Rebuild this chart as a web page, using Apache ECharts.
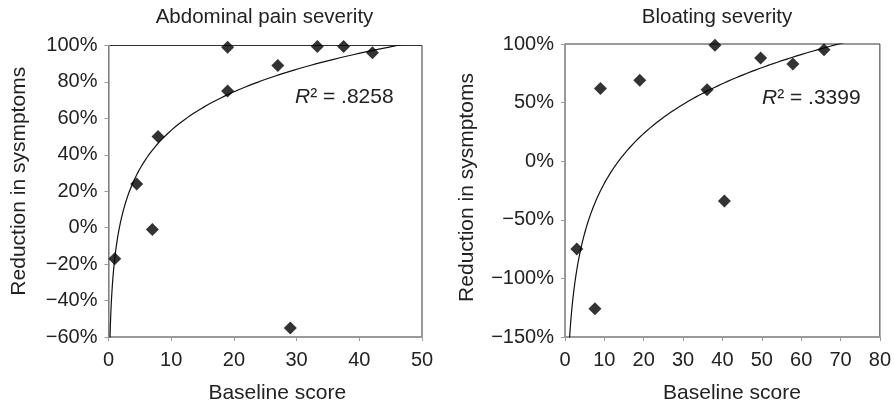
<!DOCTYPE html>
<html>
<head>
<meta charset="utf-8">
<script src="https://cdn.jsdelivr.net/npm/echarts@6/dist/echarts.min.js"></script>
<style>
html,body{margin:0;padding:0;background:#fff;}
#c{width:894px;height:409px;}
</style>
</head>
<body>
<div id="c"></div>
<script>
// ---- data ----
var titles = ['Abdominal pain severity', 'Bloating severity'];
var xAxisName = 'Baseline score';
var yAxisName = 'Reduction in sysmptoms';
var r2Labels = ['.8258', '.3399'];

var painX = [1, 4.5, 7, 7.9, 19, 19, 27, 29, 33.3, 37.5, 42.1];
var painY = [-17, 24, -1, 50, 99, 75, 89, -55, 99.5, 99.5, 96];

var bloatX = [3, 7.6, 9, 19, 36.1, 38.1, 40.5, 49.7, 57.9, 65.8];
var bloatY = [-75, -126, 62, 69, 61, 99, -34, 88, 83, 95];

// logarithmic trend lines y = a*ln(x) + b (coefficients)
var painFit = [30.5, -16.8];
var bloatFit = [61.3, -160];

var painXTicks = [0, 50, 10];      // min, max, interval
var painYTicks = [-60, 100, 20];
var bloatXTicks = [0, 80, 10];
var bloatYTicks = [-150, 100, 50];

function pairs(xs, ys) { return xs.map(function (x, i) { return [x, ys[i]]; }); }
function trend(fit, x0, x1) {
  var out = [], n = 200;
  var l0 = Math.log(x0), l1 = Math.log(x1);
  for (var i = 0; i <= n; i++) {
    var x = Math.exp(l0 + (l1 - l0) * i / n);
    out.push([x, fit[0] * Math.log(x) + fit[1]]);
  }
  return out;
}

var FONT = 'Liberation Sans';
var TXT = '#222';
var AX = '#9a9a9a';

function pct(v) { return (v < 0 ? '\u2212' + Math.abs(v) : v) + '%'; }

function xAx(idx, t, namePad) {
  return {
    type: 'value', gridIndex: idx, min: t[0], max: t[1], interval: t[2],
    name: xAxisName, nameLocation: 'middle', nameGap: 46,
    nameTextStyle: { fontFamily: FONT, fontSize: 21, color: TXT, padding: [0, 0, 0, namePad] },
    axisLine: { show: true, onZero: false, lineStyle: { color: AX, width: 1.5 } },
    axisTick: { show: true, length: 4, lineStyle: { color: AX, width: 1 } },
    axisLabel: { fontFamily: FONT, fontSize: 20, color: TXT, margin: 13 },
    splitLine: { show: false }
  };
}
function yAx(idx, t, gap, namePad) {
  return {
    type: 'value', gridIndex: idx, min: t[0], max: t[1], interval: t[2],
    name: yAxisName, nameLocation: 'middle', nameGap: gap,
    nameTextStyle: { fontFamily: FONT, fontSize: 21, color: TXT, padding: [0, 0, 0, namePad] },
    axisLine: { show: true, onZero: false, lineStyle: { color: AX, width: 1.5 } },
    axisTick: { show: true, length: 4, lineStyle: { color: AX, width: 1 } },
    axisLabel: { fontFamily: FONT, fontSize: 20, color: TXT, margin: 11, formatter: pct },
    splitLine: { show: false }
  };
}

var chart = echarts.init(document.getElementById('c'), null, { renderer: 'canvas' });
chart.setOption({
  animation: false,
  backgroundColor: '#fff',
  title: [
    { text: titles[0], left: 264.5, top: 7, textAlign: 'center', padding: 0,
      textStyle: { fontFamily: FONT, fontSize: 20.5, fontWeight: 'normal', color: TXT } },
    { text: titles[1], left: 717, top: 7, textAlign: 'center', padding: 0,
      textStyle: { fontFamily: FONT, fontSize: 20.5, fontWeight: 'normal', color: TXT } }
  ],
  grid: [
    { left: 108.5, top: 45.5, width: 313.5, height: 298.2, show: true, borderColor: '#333', borderWidth: 1, backgroundColor: 'transparent' },
    { left: 565, top: 44, width: 315, height: 298, show: true, borderColor: '#333', borderWidth: 1, backgroundColor: 'transparent' }
  ],
  xAxis: [xAx(0, painXTicks, 24), xAx(1, bloatXTicks, 19)],
  yAxis: [yAx(0, painYTicks, 79, 20), yAx(1, bloatYTicks, 87, 6)],
  graphic: [
    { type: 'text', left: 295, top: 87, z: 10,
      style: { text: '{i|R}\u00b2 = ' + r2Labels[0], fontFamily: FONT, fontSize: 21, fill: TXT,
        rich: { i: { fontStyle: 'italic', fontFamily: FONT, fontSize: 21, fill: TXT } } } },
    { type: 'text', left: 762, top: 88, z: 10,
      style: { text: '{i|R}\u00b2 = ' + r2Labels[1], fontFamily: FONT, fontSize: 21, fill: TXT,
        rich: { i: { fontStyle: 'italic', fontFamily: FONT, fontSize: 21, fill: TXT } } } }
  ],
  series: [
    { type: 'line', xAxisIndex: 0, yAxisIndex: 0, data: trend(painFit, 0.2, 50), showSymbol: false,
      clip: true, lineStyle: { color: '#111', width: 1.2 }, z: 2, silent: true },
    { type: 'scatter', xAxisIndex: 0, yAxisIndex: 0, data: pairs(painX, painY), symbol: 'diamond',
      symbolSize: 13, itemStyle: { color: '#000' }, clip: false, z: 3 },
    { type: 'line', xAxisIndex: 1, yAxisIndex: 1, data: trend(bloatFit, 1, 80), showSymbol: false,
      clip: true, lineStyle: { color: '#111', width: 1.2 }, z: 2, silent: true },
    { type: 'scatter', xAxisIndex: 1, yAxisIndex: 1, data: pairs(bloatX, bloatY), symbol: 'diamond',
      symbolSize: 13, itemStyle: { color: '#000' }, clip: false, z: 3 }
  ]
});
</script>
</body>
</html>
